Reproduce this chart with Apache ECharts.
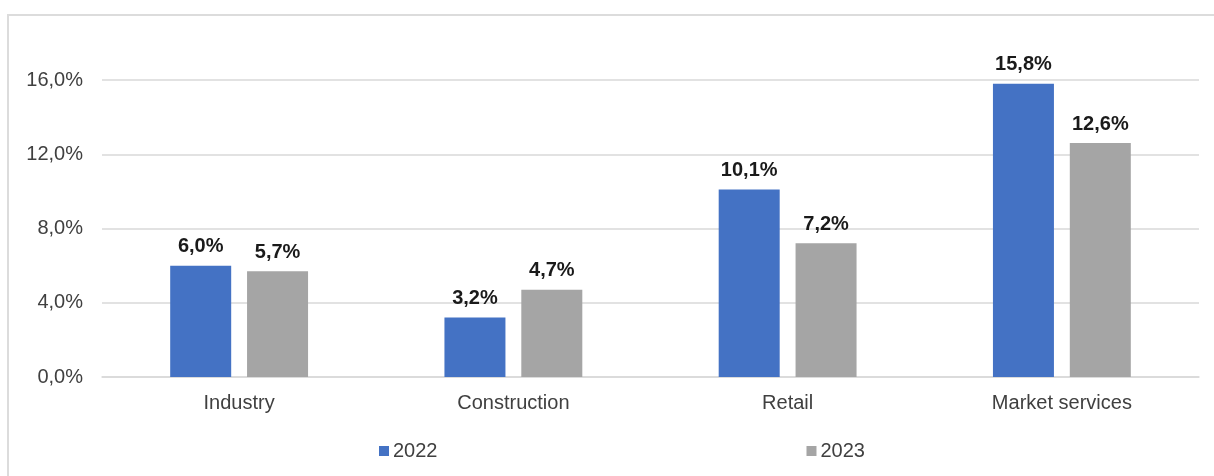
<!DOCTYPE html>
<html>
<head>
<meta charset="utf-8">
<script src="https://cdn.jsdelivr.net/npm/echarts@6/dist/echarts.min.js"></script>
<style>
  html, body { margin: 0; padding: 0; background: #fff; }
  #frame {
    position: absolute; left: 7px; top: 14px; width: 1220px; height: 480px;
    border: 2px solid #dcdcdc; box-sizing: border-box;
  }
  #chart { position: absolute; left: 0; top: 0; width: 1214px; height: 476px; }
</style>
</head>
<body>
<div id="frame"></div>
<div id="chart"></div>
<script>
// categories and values (%)
const categories = ["Industry", "Construction", "Retail", "Market services"];
const values2022 = [6.0, 3.2, 10.1, 15.8];
const values2023 = [5.7, 4.7, 7.2, 12.6];
const seriesNames = ["2022", "2023"];

const fmt = (v) => v.toFixed(1).replace(".", ",") + "%";

const myChart = echarts.init(document.getElementById("chart"));
const option = {
  backgroundColor: "transparent",
  animation: false,
  textStyle: { fontFamily: "Liberation Sans, Arial, sans-serif" },
  grid: { left: 102, right: 15, top: 80, bottom: 99 },
  legend: {
    data: seriesNames,
    left: 379,
    top: 441,
    padding: 0,
    itemWidth: 10,
    itemHeight: 10,
    itemGap: 369,
    icon: "rect",
    textStyle: { fontSize: 20, color: "#404040", padding: [0, 0, 0, -1] },
  },
  xAxis: {
    type: "category",
    data: categories,
    axisLine: { show: true, lineStyle: { color: "#d9d9d9", width: 1.5 } },
    axisTick: { show: false },
    axisLabel: { fontSize: 20, color: "#404040", margin: 16 },
  },
  yAxis: {
    type: "value",
    min: 0,
    max: 16,
    interval: 4,
    axisLine: { show: false },
    axisTick: { show: false },
    axisLabel: { fontSize: 20, color: "#404040", margin: 19, formatter: fmt },
    splitLine: { lineStyle: { color: "#d9d9d9", width: 1.5 } },
  },
  series: [
    {
      name: seriesNames[0],
      type: "bar",
      data: values2022,
      barWidth: 61,
      barGap: "26%",
      itemStyle: { color: "#4472C4" },
      label: {
        show: true, position: "top", distance: 9, formatter: (p) => fmt(p.value),
        fontSize: 20, fontWeight: "bold", color: "#1a1a1a",
      },
    },
    {
      name: seriesNames[1],
      type: "bar",
      data: values2023,
      barWidth: 61,
      itemStyle: { color: "#A5A5A5" },
      label: {
        show: true, position: "top", distance: 9, formatter: (p) => fmt(p.value),
        fontSize: 20, fontWeight: "bold", color: "#1a1a1a",
      },
    },
  ],
};
myChart.setOption(option);
</script>
</body>
</html>
